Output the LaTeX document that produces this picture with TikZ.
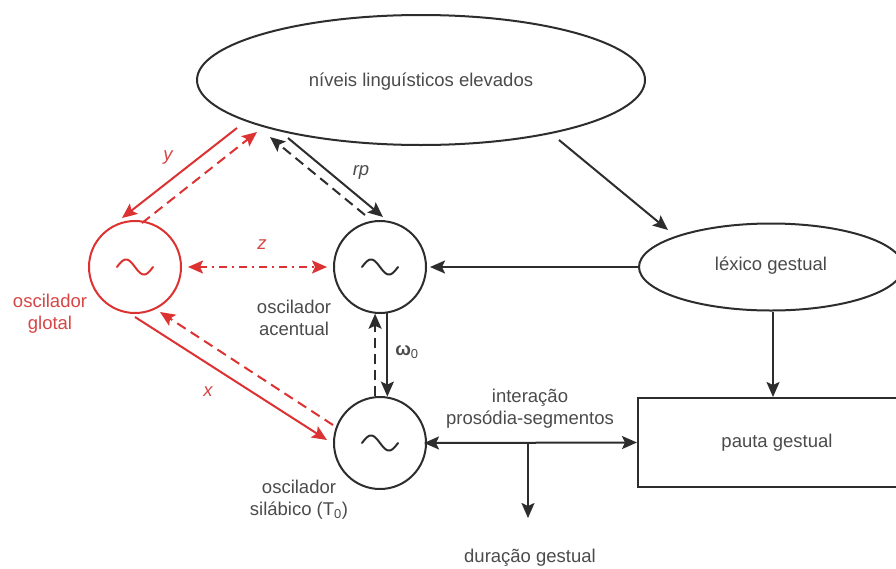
\documentclass[tikz,border=0pt]{standalone}
\usepackage{fontspec}
\setmainfont{Liberation Sans}
\usetikzlibrary{arrows.meta,shapes.geometric,calc}
\definecolor{ink}{RGB}{45,45,45}
\definecolor{txt}{RGB}{75,75,75}
\definecolor{rd}{RGB}{220,50,50}
\definecolor{rdtxt}{RGB}{215,70,70}
\begin{document}
\begin{tikzpicture}[x=1pt,y=-1pt,
  every node/.style={font=\fontsize{18.5}{22}\selectfont, text=txt},
  lbl/.style={align=center, inner sep=0pt},
  oval/.style={draw=ink, line width=2pt, ellipse, inner sep=0pt},
  osc/.style={draw=ink, line width=2pt, circle, minimum size=92pt, inner sep=0pt},
  box/.style={draw=ink, line width=2pt, rectangle, inner sep=0pt},
  tip/.style={Stealth[length=15pt,width=13pt,inset=3pt]},
  arr/.style={draw=ink, line width=2pt, -{Stealth[length=15pt,width=13pt,inset=3pt]}},
  darr/.style={arr, dash pattern=on 10pt off 6pt},
  rarr/.style={draw=rd, line width=2pt, -{Stealth[length=15pt,width=13pt,inset=3pt]}},
  rdarr/.style={rarr, dash pattern=on 10pt off 6pt},
  wave/.style={line width=2pt, line cap=round}
]
\fill[white] (0,0) rectangle (896,568);
\useasboundingbox (0,0) rectangle (896,568);
\clip (0,0) rectangle (896,568);

% nodes
\node[oval, minimum width=448pt, minimum height=130pt] (big) at (421,80) {};
\node at (421,82) (bigt) {níveis linguísticos elevados};
\node[oval, minimum width=264pt, minimum height=87pt] (lex) at (771,267) {};
\node at (771,266) (lext) {léxico gestual};
\node[box, minimum width=278pt, minimum height=89pt] (pauta) at (777,442.5) {};
\node at (777,443) (pautat) {pauta gestual};

\node[osc, draw=rd] (glot) at (135,267) {};
\node[osc] (acc) at (380,267) {};
\node[osc] (sil) at (380,443) {};

% waves
\draw[wave, draw=rd, shift={(glot.center)}] plot[domain=-18:18, samples=50] (\x, {7.5*sin(\x*10)});
\draw[wave, draw=ink, shift={(acc.center)}] plot[domain=-18:18, samples=50] (\x, {7.5*sin(\x*10)});
\draw[wave, draw=ink, shift={(sil.center)}] plot[domain=-18:18, samples=50] (\x, {7.5*sin(\x*10)});

% labels
\node[lbl, text=rdtxt] (glotl) at (50,314) {oscilador\\glotal};
\node[lbl] (accl) at (294,318) {oscilador\\acentual};
\node[lbl] (sill) at (299,500) {oscilador\\silábico (T\textsubscript{0})};
\node[lbl] (inter) at (530,409) {interação\\prosódia-segmentos};
\node[lbl] (dur) at (530,558) {duração gestual};
\node[lbl] (om) at (407,352) {\textbf{ω}\textsubscript{0}};
\node[lbl, font=\fontsize{18.5}{22}\selectfont\itshape] (rpl) at (361,172) {rp};
\node[lbl, text=rdtxt, font=\fontsize{18.5}{22}\selectfont\itshape] (yl) at (168,158) {y};
\node[lbl, text=rdtxt, font=\fontsize{18.5}{22}\selectfont\itshape] (zl) at (262,245) {z};
\node[lbl, text=rdtxt, font=\fontsize{18.5}{22}\selectfont\itshape] (xl) at (208,392) {x};

% connector end points
\coordinate (ys) at (237,128);  \coordinate (yt) at (122,218);
\coordinate (yds) at (142,223); \coordinate (ydt) at (257,132);
\coordinate (xs) at (135,317);  \coordinate (xt) at (327,440);
\coordinate (xds) at (333,425); \coordinate (xdt) at (160,312);
\coordinate (rpds) at (365,215); \coordinate (rpdt) at (270,137);
\coordinate (rps) at (288,138);  \coordinate (rpt) at (383,217);
\coordinate (bls) at (559,140);  \coordinate (blt) at (668,230);
\coordinate (br) at (528,442);   \coordinate (brt) at (528,518);

% red connectors
\draw[rarr] (ys) -- (yt);
\draw[rdarr] (yds) -- (ydt);
\draw[rarr] (xs) -- (xt);
\draw[rdarr] (xds) -- (xdt);
\draw[draw=rd, line width=2pt, dash pattern=on 8pt off 5pt on 2pt off 5pt,
  {Stealth[length=15pt,width=13pt,inset=3pt]}-{Stealth[length=15pt,width=13pt,inset=3pt]},
  shorten <=6pt, shorten >=6pt] (glot.east) -- (acc.west);

% black connectors
\draw[darr] (rpds) -- (rpdt);
\draw[arr] (rps) -- (rpt);
\draw[arr] (bls) -- (blt);
\draw[arr] (lex.west) -- ([xshift=3pt]acc.east);
\draw[arr] (lex.south -| 773,0) -- (pauta.north -| 773,0);
\draw[darr] (sil.96) -- (acc.264);
\draw[arr] (acc.279) -- (sil.81);
\draw[arr, {Stealth[length=15pt,width=13pt,inset=3pt]}-{Stealth[length=15pt,width=13pt,inset=3pt]}, shorten <=-3pt] (sil.east) -- (pauta.west);
\draw[arr] (br) -- (brt);
\end{tikzpicture}
\end{document}
